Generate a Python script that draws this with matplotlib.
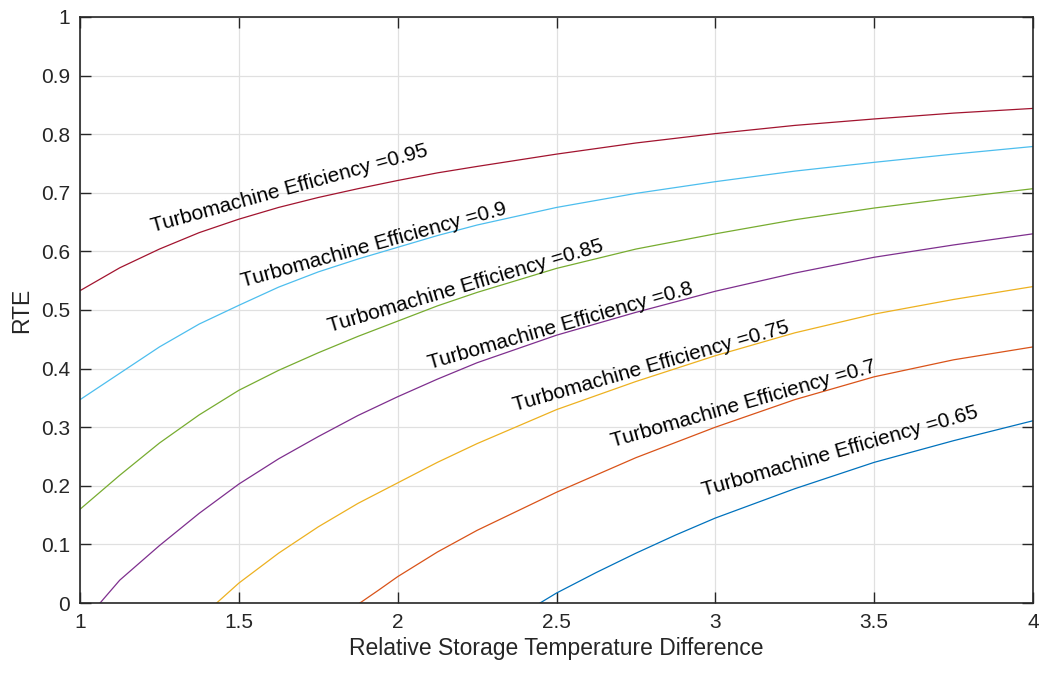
import matplotlib
matplotlib.use("Agg")
import matplotlib.pyplot as plt

plt.rcParams['font.family'] = ['Liberation Sans', 'DejaVu Sans']

# ---- data ----
eff_labels = ["0.95", "0.9", "0.85", "0.8", "0.75", "0.7", "0.65"]

x_095 = [1.0, 1.125, 1.25, 1.375, 1.5, 1.625, 1.75, 1.875, 2.0, 2.125, 2.25, 2.5, 2.75, 3.0, 3.25, 3.5, 3.75, 4.0]
y_095 = [0.533, 0.572, 0.604, 0.632, 0.655, 0.675, 0.692, 0.707, 0.721, 0.734, 0.745, 0.766, 0.785, 0.801, 0.815, 0.826, 0.836, 0.844]

x_090 = [1.0, 1.125, 1.25, 1.375, 1.5, 1.625, 1.75, 1.875, 2.0, 2.125, 2.25, 2.5, 2.75, 3.0, 3.25, 3.5, 3.75, 4.0]
y_090 = [0.347, 0.392, 0.437, 0.476, 0.508, 0.539, 0.565, 0.587, 0.607, 0.627, 0.645, 0.675, 0.699, 0.719, 0.737, 0.752, 0.766, 0.779]

x_085 = [1.0, 1.125, 1.25, 1.375, 1.5, 1.625, 1.75, 1.875, 2.0, 2.125, 2.25, 2.5, 2.75, 3.0, 3.25, 3.5, 3.75, 4.0]
y_085 = [0.160, 0.218, 0.273, 0.321, 0.363, 0.397, 0.427, 0.455, 0.481, 0.507, 0.530, 0.571, 0.604, 0.630, 0.654, 0.674, 0.691, 0.707]

x_080 = [1.063, 1.125, 1.25, 1.375, 1.5, 1.625, 1.75, 1.875, 2.0, 2.125, 2.25, 2.5, 2.75, 3.0, 3.25, 3.5, 3.75, 4.0]
y_080 = [0.0, 0.039, 0.098, 0.153, 0.203, 0.246, 0.284, 0.320, 0.352, 0.382, 0.410, 0.457, 0.496, 0.532, 0.563, 0.590, 0.611, 0.630]

x_075 = [1.43, 1.465, 1.5, 1.625, 1.75, 1.875, 2.0, 2.125, 2.25, 2.5, 2.75, 3.0, 3.25, 3.5, 3.75, 4.0]
y_075 = [0.0, 0.017, 0.034, 0.085, 0.130, 0.170, 0.205, 0.240, 0.272, 0.330, 0.378, 0.422, 0.461, 0.493, 0.518, 0.540]

x_070 = [1.881, 1.94, 2.0, 2.125, 2.25, 2.5, 2.75, 3.0, 3.25, 3.5, 3.75, 4.0]
y_070 = [0.0, 0.022, 0.045, 0.087, 0.124, 0.189, 0.248, 0.300, 0.347, 0.386, 0.415, 0.437]

x_065 = [2.448, 2.5, 2.625, 2.75, 2.875, 3.0, 3.25, 3.5, 3.75, 4.0]
y_065 = [0.0, 0.017, 0.052, 0.085, 0.116, 0.145, 0.195, 0.240, 0.277, 0.311]

xticks = [1, 1.5, 2, 2.5, 3, 3.5, 4]
xticklabels = ["1", "1.5", "2", "2.5", "3", "3.5", "4"]
yticks = [0, 0.1, 0.2, 0.3, 0.4, 0.5, 0.6, 0.7, 0.8, 0.9, 1]
yticklabels = ["0", "0.1", "0.2", "0.3", "0.4", "0.5", "0.6", "0.7", "0.8", "0.9", "1"]

series_x = [x_095, x_090, x_085, x_080, x_075, x_070, x_065]
series_y = [y_095, y_090, y_085, y_080, y_075, y_070, y_065]
colors = ["#A2142F", "#4DBEEE", "#77AC30", "#7E2F8E", "#EDB120", "#D95319", "#0072BD"]

# label placement (data coords, screen rotation)
lab_pos = [(1.658, 0.708, 15.5), (1.925, 0.611, 15.5), (2.215, 0.541, 16.5),
           (2.511, 0.473, 16.0), (2.797, 0.404, 16.0), (3.090, 0.340, 16.0),
           (3.392, 0.258, 16.0)]

fig = plt.figure(figsize=(10.45, 6.77), dpi=100)
ax = fig.add_axes([0.0766, 0.1093, 0.9119, 0.8656])

for xs, ys, c in zip(series_x, series_y, colors):
    ax.plot(xs, ys, color=c, linewidth=0.9, solid_joinstyle='round')

for lab, (lx, ly, rot) in zip(eff_labels, lab_pos):
    ax.text(lx, ly, "Turbomachine Efficiency =" + lab, rotation=rot,
            rotation_mode='anchor', ha='center', va='center',
            fontsize=15, color='black')

ax.set_xlim(1, 4)
ax.set_ylim(0, 1)
ax.set_xticks(xticks)
ax.set_xticklabels(xticklabels)
ax.set_yticks(yticks)
ax.set_yticklabels(yticklabels)
ax.grid(True, color='#e0e0e0', linewidth=0.9)
ax.set_axisbelow(True)

axc = '#262626'
for s in ax.spines.values():
    s.set_color(axc)
    s.set_linewidth(1.2)
ax.tick_params(direction='in', length=8, width=1.0, color=axc, labelcolor=axc,
               labelsize=15, top=True, right=True, pad=7)

ax.set_xlabel("Relative Storage Temperature Difference", fontsize=16.5, color=axc, labelpad=4)
ax.set_ylabel("RTE", fontsize=16.5, color=axc, labelpad=6)

fig.savefig("out.png", dpi=100)
